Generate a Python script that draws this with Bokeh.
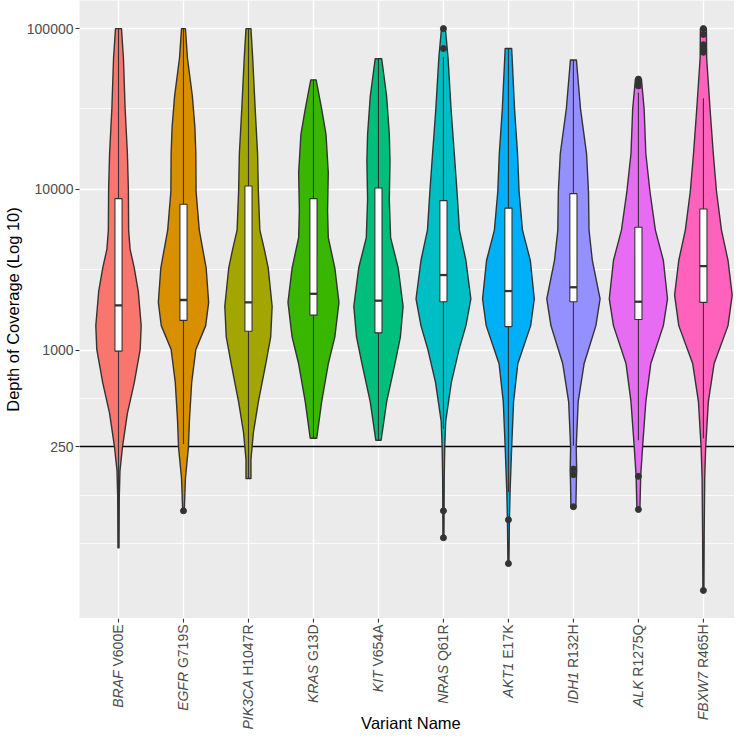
import math
from bokeh.plotting import figure
from bokeh.layouts import column
from bokeh.models import Range1d, FixedTicker, NumeralTickFormatter
from bokeh.core.properties import value
from bokeh.embed import file_html
from bokeh.resources import INLINE

# ---------------- data ----------------
genes = ["BRAF", "EGFR", "PIK3CA", "KRAS", "KIT", "NRAS", "AKT1", "IDH1", "ALK", "FBXW7"]
variants = ["V600E", "G719S", "H1047R", "G13D", "V654A", "Q61R", "E17K", "R132H", "R1275Q", "R465H"]
colors = ["#F8766D", "#D89000", "#A3A500", "#39B600", "#00BF7D",
          "#00BFC4", "#00B0F6", "#9590FF", "#E76BF3", "#FF62BC"]

y_breaks = [250, 1000, 10000, 100000]
threshold = 250

# violin outlines: depth levels (top to bottom) and density half-widths (category units)
braf_depth = [100000, 65600, 31700, 16700, 10000, 5580, 4250, 3240, 2330, 1420, 1010, 627, 404, 249, 178, 121, 59]
braf_width = [0.046, 0.076, 0.102, 0.137, 0.152, 0.156, 0.178, 0.243, 0.304, 0.349, 0.334, 0.243, 0.137, 0.061, 0.023, 0.012, 0.008]
egfr_depth = [100000, 65600, 37900, 24500, 16700, 9660, 5580, 3240, 1980, 1420, 1010, 627, 362, 249, 159, 100]
egfr_width = [0.030, 0.061, 0.137, 0.175, 0.190, 0.194, 0.243, 0.349, 0.387, 0.342, 0.190, 0.126, 0.091, 0.076, 0.030, 0.012]
pik3ca_depth = [100000, 65600, 31700, 16700, 9660, 5580, 4250, 3240, 1870, 1210, 822, 476, 308, 209, 159]
pik3ca_width = [0.038, 0.065, 0.103, 0.140, 0.152, 0.175, 0.243, 0.304, 0.364, 0.342, 0.266, 0.152, 0.076, 0.038, 0.038]
kras_depth = [48000, 31700, 22000, 12700, 7350, 5010, 3240, 1980, 1210, 822, 476, 283]
kras_width = [0.041, 0.126, 0.193, 0.228, 0.217, 0.228, 0.329, 0.392, 0.329, 0.228, 0.126, 0.050]
kit_depth = [64900, 37900, 22000, 15000, 8650, 5010, 3240, 1870, 1210, 822, 476, 275]
kit_width = [0.050, 0.126, 0.167, 0.178, 0.167, 0.187, 0.304, 0.379, 0.338, 0.253, 0.126, 0.041]
nras_depth = [100000, 65600, 31700, 16700, 9660, 5580, 3610, 2080, 1420, 1010, 627, 362, 249, 159, 68]
nras_width = [0.030, 0.071, 0.117, 0.167, 0.209, 0.246, 0.346, 0.422, 0.346, 0.240, 0.121, 0.035, 0.020, 0.012, 0.008]
akt1_depth = [75200, 31700, 16700, 9660, 5580, 3610, 2080, 1420, 822, 476, 249, 135, 87, 47]
akt1_width = [0.050, 0.094, 0.140, 0.164, 0.216, 0.337, 0.398, 0.342, 0.144, 0.079, 0.050, 0.026, 0.015, 0.008]
idh1_depth = [63800, 31700, 16700, 9660, 5580, 3610, 2080, 1420, 822, 476, 249, 178, 159, 106]
idh1_width = [0.046, 0.109, 0.202, 0.232, 0.240, 0.291, 0.410, 0.346, 0.164, 0.073, 0.043, 0.050, 0.046, 0.038]
alk_depth = [48500, 31700, 16700, 9660, 5580, 3610, 2080, 1420, 822, 476, 249, 164, 102]
alk_width = [0.046, 0.088, 0.114, 0.178, 0.261, 0.384, 0.448, 0.384, 0.190, 0.114, 0.064, 0.035, 0.023]
fbxw7_depth = [100000, 65600, 31700, 16700, 9660, 5580, 3610, 2200, 1420, 822, 476, 249, 159, 70, 32]
fbxw7_width = [0.046, 0.050, 0.102, 0.152, 0.202, 0.278, 0.379, 0.443, 0.379, 0.164, 0.076, 0.035, 0.020, 0.012, 0.008]

violin_depths = [braf_depth, egfr_depth, pik3ca_depth, kras_depth, kit_depth,
                 nras_depth, akt1_depth, idh1_depth, alk_depth, fbxw7_depth]
violin_widths = [braf_width, egfr_width, pik3ca_width, kras_width, kit_width,
                 nras_width, akt1_width, idh1_width, alk_width, fbxw7_width]

# box plot statistics
box_q1 = [986, 1530, 1310, 1650, 1280, 2000, 1400, 2000, 1550, 1980]
box_med = [1900, 2050, 1980, 2240, 2030, 2930, 2330, 2460, 2000, 3330]
box_q3 = [8750, 8070, 10500, 8750, 10200, 8510, 7640, 9400, 5810, 7550]
whisker_lo = [59, 261, 159, 283, 275, 324, 131, 254, 275, 283]
whisker_hi = [100000, 100000, 100000, 48000, 64900, 66700, 75200, 63800, 40100, 36900]

outlier_cat = [2, 6, 6, 6, 6, 7, 7, 8, 8, 8, 9, 9, 9, 9, 9, 10, 10, 10, 10, 10, 10]
outlier_val = [100, 100000, 75200, 100, 68, 88, 47, 182, 168, 106,
               48500, 46000, 44000, 164, 102, 100000, 92000, 79400, 75200, 71200, 32]

# ---------------- layout ----------------
FONT = "Liberation Sans"
W = 734
H1 = 618          # main panel height
H2 = 115          # x tick label strip
LEFT = 70
frame_w = W - LEFT
unit_px = 672 / 10.2              # pixels per category step
positions = list(range(1, len(genes) + 1))

all_vals = [v for d in violin_depths for v in d] + outlier_val
lo = math.log10(min(all_vals))
hi = math.log10(max(all_vals))
ext = 0.05 * (hi - lo)
y_lo = lo - ext
y_hi = hi + ext

p = figure(width=W, height=H1, y_axis_type="log", output_backend="svg", toolbar_location=None,
           x_range=Range1d(0.4, 0.4 + frame_w / unit_px),
           y_range=Range1d(10 ** y_lo, 10 ** y_hi),
           min_border_left=LEFT, min_border_right=0, min_border_top=0, min_border_bottom=0)
p.background_fill_color = "#EBEBEB"
p.border_fill_color = "white"
p.outline_line_color = None

# ticks & grids
minor = [math.sqrt(a * b) for a, b in zip(y_breaks[:-1], y_breaks[1:])]
minor += [y_breaks[0] / math.sqrt(y_breaks[1] / y_breaks[0]), y_breaks[0] ** 2 / y_breaks[1]]
yt = FixedTicker(ticks=y_breaks, minor_ticks=minor)
xt = FixedTicker(ticks=positions, minor_ticks=[])
p.yaxis.ticker = yt
p.ygrid.ticker = yt
p.xaxis.ticker = xt
p.xgrid.ticker = xt
p.xaxis.visible = False
p.grid.grid_line_color = "white"
p.grid.grid_line_width = 1.4
p.ygrid.minor_grid_line_color = "white"
p.ygrid.minor_grid_line_width = 0.8

p.yaxis.axis_line_color = None
p.yaxis.major_tick_line_color = "#333333"
p.yaxis.major_tick_line_width = 1.1
p.yaxis.major_tick_out = 4
p.yaxis.major_tick_in = 0
p.yaxis.minor_tick_line_color = None
p.yaxis.formatter = NumeralTickFormatter(format="0")
p.yaxis.major_label_text_font = FONT
p.yaxis.major_label_text_font_size = "14px"
p.yaxis.major_label_text_color = "#4D4D4D"
p.yaxis.major_label_standoff = 2
p.yaxis.axis_label = "Depth of Coverage (Log 10)"
p.yaxis.axis_label_text_font = FONT
p.yaxis.axis_label_text_font_size = "16.5px"
p.yaxis.axis_label_text_font_style = "normal"
p.yaxis.axis_label_text_color = "black"
p.yaxis.axis_label_standoff = 2

# threshold line (below the violins)
p.hspan(y=[threshold], line_color="black", line_width=1.5)

# violins
xs, ys = [], []
for c, d, w in zip(positions, violin_depths, violin_widths):
    xs.append([c - v for v in w] + [c + v for v in reversed(w)])
    ys.append(list(d) + list(reversed(d)))
p.patches(xs, ys, fill_color=colors, line_color="#333333", line_width=1.4, line_join="round")

# box plots
BOX_HALF = 0.055
p.segment(x0=positions, x1=positions, y0=box_q3, y1=whisker_hi, line_color="#333333", line_width=1.1)
p.segment(x0=positions, x1=positions, y0=box_q1, y1=whisker_lo, line_color="#333333", line_width=1.1)
p.quad(left=[c - BOX_HALF for c in positions], right=[c + BOX_HALF for c in positions],
       bottom=box_q1, top=box_q3, fill_color="white", line_color="#333333", line_width=1.1)
p.segment(x0=[c - BOX_HALF for c in positions], x1=[c + BOX_HALF for c in positions],
          y0=box_med, y1=box_med, line_color="#333333", line_width=2.3)
p.scatter(x=outlier_cat, y=outlier_val, size=6, color="#333333")

# ---------------- x axis strip (ticks, labels, title) ----------------
p2 = figure(width=W, height=H2, output_backend="svg", toolbar_location=None,
            x_range=p.x_range, y_range=Range1d(-H2, 0),
            x_axis_location=None, y_axis_location=None,
            min_border_left=LEFT, min_border_right=0, min_border_top=0, min_border_bottom=0)
p2.outline_line_color = None
p2.background_fill_color = "white"
p2.border_fill_color = "white"
p2.grid.visible = False

TICK = 4
n = len(positions)
p2.segment(x0=positions, x1=positions, y0=[0] * n, y1=[-TICK] * n, line_color="#333333", line_width=1.1)

ARIAL_W = {" ": 278, "A": 667, "D": 722, "E": 667, "G": 778, "H": 722, "K": 667,
           "Q": 778, "R": 722, "S": 667, "V": 667}
def text_px(s, size=14):
    return sum(ARIAL_W.get(ch, 556) for ch in s) * size / 1000.0

TOP_GAP = 6
p2.text(x=positions, y=[-TOP_GAP] * n, text=variants, angle=math.pi / 2,
        text_align="right", text_baseline="middle", text_font=value(FONT),
        text_font_size="14px", text_color="#4D4D4D")
p2.text(x=positions, y=[-TOP_GAP - text_px(v + " ") for v in variants], text=genes, angle=math.pi / 2,
        text_align="right", text_baseline="middle", text_font=value(FONT),
        text_font_size="14px", text_font_style="italic", text_color="#4D4D4D")
p2.text(x=[sum(positions) / n], y=[-104], text=["Variant Name"],
        text_align="center", text_baseline="middle", text_font=value(FONT),
        text_font_size="16.5px", text_color="black")

layout = column(p, p2, spacing=0)
open("out.html", "w").write(file_html(layout, INLINE))
